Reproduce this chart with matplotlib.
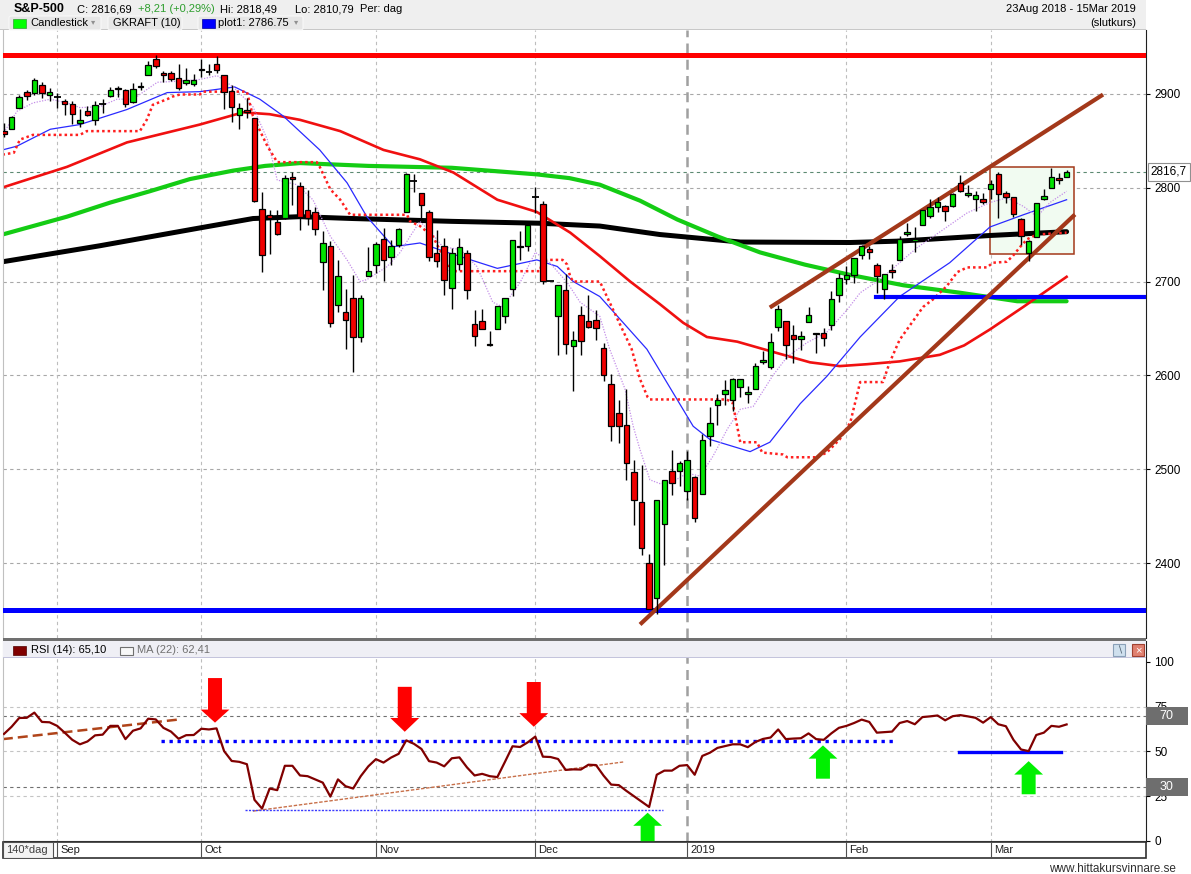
import numpy as np
import matplotlib
matplotlib.use('Agg')
import matplotlib.pyplot as plt
import matplotlib.transforms as mtrans
from matplotlib.patches import Rectangle, Polygon, FancyBboxPatch

plt.rcParams['font.family'] = ['Liberation Sans', 'DejaVu Sans']

# ---- daily OHLC, 23 Aug 2018 - 15 Mar 2019 (Dec 5 shown as a flat bar) ----
opens = [2860.3, 2862.4, 2884.7, 2901.5, 2900.6, 2908.9, 2898.4,
         2897.0, 2891.6, 2888.6, 2868.3, 2881.4, 2871.6, 2888.3, 2896.9, 2906.4, 2903.8,
         2890.7, 2906.6, 2919.7, 2936.8, 2921.8, 2921.8, 2917.0, 2911.7, 2910.0,
         2926.3, 2923.8, 2931.7, 2919.4, 2902.5, 2877.5, 2882.5, 2873.9, 2776.9, 2770.5,
         2763.8, 2767.1, 2811.7, 2802.0, 2775.7, 2773.9, 2721.0, 2737.9, 2674.9, 2667.9,
         2682.7, 2640.7, 2705.6,
         2717.6, 2745.5, 2726.4, 2738.4, 2774.1, 2806.4, 2794.1, 2773.9, 2730.1, 2737.9,
         2693.5, 2718.5, 2730.7, 2654.6, 2657.7, 2633.4, 2650.0, 2663.8, 2691.5, 2737.0,
         2737.8,
         2790.5, 2782.4, 2700.1, 2663.5, 2691.3, 2630.9, 2664.4, 2658.2, 2658.7, 2629.7,
         2590.8, 2559.9, 2547.1, 2496.8, 2465.4, 2400.6, 2363.1, 2442.5, 2498.8, 2498.9,
         2477.0, 2491.9, 2474.3, 2535.6, 2568.1, 2580.0, 2573.5, 2588.1, 2580.3, 2585.1,
         2614.8, 2609.3, 2651.3, 2657.9, 2643.5, 2638.8, 2657.4, 2645.0, 2644.9, 2653.6,
         2685.5,
         2702.3, 2706.5, 2728.3, 2735.1, 2717.5, 2692.4, 2712.4, 2722.6, 2750.3, 2743.5,
         2760.2, 2769.3, 2779.1, 2780.7, 2780.7, 2804.4, 2792.4, 2787.5, 2788.1,
         2798.2, 2814.4, 2794.4, 2790.3, 2766.5, 2730.8, 2747.6, 2787.3, 2799.8, 2810.4,
         2810.8]
highs = [2868.8, 2876.2, 2898.3, 2903.8, 2916.5, 2912.5, 2906.3,
         2900.2, 2894.2, 2892.1, 2883.8, 2886.9, 2892.5, 2894.7, 2906.8, 2908.3, 2904.7,
         2911.2, 2912.4, 2934.8, 2940.9, 2923.8, 2924.0, 2931.2, 2927.2, 2920.5,
         2937.1, 2931.4, 2939.9, 2919.8, 2909.6, 2889.5, 2894.8, 2874.0, 2795.1, 2775.8,
         2776.0, 2813.5, 2816.9, 2806.0, 2797.8, 2778.9, 2753.6, 2742.6, 2722.7, 2692.4,
         2706.9, 2685.4, 2736.7,
         2741.7, 2756.6, 2744.3, 2756.8, 2815.2, 2814.8, 2794.1, 2776.0, 2754.6, 2746.8,
         2735.4, 2746.8, 2733.2, 2669.4, 2670.7, 2647.6, 2674.4, 2682.5, 2744.0, 2753.8,
         2760.9,
         2800.2, 2785.9, 2700.1, 2696.2, 2708.5, 2647.5, 2674.4, 2685.4, 2670.2, 2635.1,
         2601.1, 2574.0, 2585.3, 2509.6, 2504.4, 2410.3, 2467.8, 2489.1, 2520.3, 2509.2,
         2519.5, 2493.1, 2538.1, 2566.2, 2579.8, 2595.3, 2597.8, 2596.3, 2589.3, 2613.1,
         2625.8, 2645.1, 2675.5, 2657.9, 2653.2, 2647.2, 2672.4, 2645.0, 2650.9, 2690.4,
         2709.0,
         2716.7, 2725.0, 2739.0, 2738.1, 2719.3, 2708.1, 2718.1, 2748.2, 2761.9, 2757.9,
         2775.7, 2787.3, 2789.9, 2781.6, 2794.2, 2813.5, 2803.1, 2795.8, 2793.7,
         2808.0, 2816.9, 2796.4, 2790.3, 2767.3, 2744.1, 2784.0, 2798.3, 2821.2, 2815.0,
         2818.5]
lows = [2854.0, 2862.4, 2884.7, 2893.5, 2898.4, 2895.2, 2891.7,
        2885.1, 2876.9, 2867.3, 2864.1, 2875.9, 2866.8, 2879.2, 2896.4, 2895.8, 2886.2,
        2890.4, 2903.8, 2919.7, 2927.1, 2912.6, 2913.7, 2903.3, 2909.3, 2907.5,
        2917.9, 2919.4, 2921.4, 2883.9, 2869.3, 2862.1, 2874.3, 2784.9, 2710.5, 2729.4,
        2749.0, 2766.9, 2781.8, 2755.2, 2760.3, 2749.2, 2691.4, 2651.9, 2667.8, 2628.2,
        2603.5, 2635.3, 2705.6,
        2708.9, 2700.4, 2717.9, 2737.1, 2774.1, 2795.0, 2764.2, 2722.0, 2715.0, 2685.8,
        2670.8, 2712.2, 2681.1, 2631.5, 2649.8, 2631.1, 2650.0, 2655.9, 2684.4, 2722.9,
        2732.8,
        2773.4, 2697.2, 2700.1, 2621.5, 2623.1, 2583.2, 2621.3, 2650.3, 2637.3, 2593.8,
        2530.5, 2528.7, 2489.0, 2441.2, 2408.6, 2351.1, 2346.6, 2397.9, 2472.9, 2482.8,
        2467.5, 2444.0, 2474.3, 2524.6, 2547.6, 2568.9, 2562.0, 2577.4, 2570.4, 2585.1,
        2612.7, 2606.4, 2647.6, 2617.3, 2612.9, 2627.0, 2657.3, 2624.1, 2631.1, 2648.3,
        2678.7,
        2696.9, 2698.8, 2724.0, 2724.2, 2687.3, 2681.8, 2703.8, 2722.6, 2748.6, 2731.2,
        2760.2, 2767.3, 2774.1, 2764.6, 2779.1, 2795.0, 2789.5, 2775.1, 2782.5,
        2787.4, 2767.7, 2783.0, 2768.7, 2739.1, 2722.3, 2747.6, 2786.7, 2799.8, 2803.5,
        2810.8]
closes = [2857.0, 2874.7, 2896.7, 2897.5, 2914.0, 2901.1, 2901.5,
          2896.7, 2888.6, 2878.1, 2871.7, 2877.1, 2887.9, 2888.9, 2904.2, 2905.0, 2888.8,
          2904.3, 2908.0, 2930.8, 2929.7, 2919.4, 2915.6, 2906.0, 2914.0, 2914.0,
          2924.6, 2923.4, 2925.5, 2901.6, 2885.6, 2884.4, 2880.3, 2785.7, 2728.4, 2767.1,
          2750.8, 2809.9, 2809.2, 2768.8, 2767.8, 2755.9, 2740.7, 2656.1, 2705.6, 2658.7,
          2641.3, 2682.6, 2711.7,
          2740.4, 2723.1, 2738.3, 2755.5, 2813.9, 2806.8, 2781.0, 2726.2, 2722.2, 2701.6,
          2730.2, 2736.3, 2690.7, 2641.9, 2649.9, 2632.6, 2673.5, 2682.2, 2743.8, 2737.8,
          2760.2,
          2790.4, 2700.1, 2700.1, 2696.0, 2633.1, 2637.7, 2636.8, 2651.1, 2650.5, 2600.0,
          2545.9, 2546.2, 2507.0, 2467.4, 2416.6, 2351.1, 2467.7, 2488.8, 2485.7, 2506.9,
          2510.0, 2447.9, 2531.9, 2549.7, 2574.4, 2585.0, 2596.6, 2596.3, 2582.6, 2610.3,
          2616.1, 2636.0, 2670.7, 2632.9, 2638.7, 2642.3, 2664.8, 2643.9, 2640.0, 2681.1,
          2704.1,
          2706.5, 2724.9, 2737.7, 2731.6, 2706.1, 2707.9, 2709.8, 2744.7, 2753.0, 2745.7,
          2775.6, 2779.8, 2784.7, 2774.9, 2792.7, 2796.1, 2793.9, 2792.4, 2784.5,
          2803.7, 2792.8, 2789.7, 2771.5, 2748.9, 2743.1, 2783.3, 2791.5, 2810.9, 2808.5,
          2816.7]

# month starts (bar index) for grid and date row
month_idx = [7, 26, 49, 70, 90, 111, 130]
month_lbl = ['Sep', 'Oct', 'Nov', 'Dec', '2019', 'Feb', 'Mar']

# indicator lines (bar index, value)
ma200_x = [-0.2, 12.6, 25.8, 32.8, 39, 46, 59, 70.6, 78.5, 86.4, 97, 111.5, 118, 130, 140]
ma200_y = [2721, 2738, 2757, 2767, 2769, 2767, 2764, 2762, 2759, 2750, 2742, 2741.5, 2743, 2749, 2753]
ma100_x = [-0.2, 8.3, 14, 19.2, 24.5, 30.2, 34.4, 39, 48, 59, 70.2, 74.5, 78.5, 83.8, 88.7, 94,
           99.6, 105.5, 111.5, 118.5, 126, 133.5, 140]
ma100_y = [2750, 2769, 2784, 2796, 2809, 2818, 2823, 2826, 2823, 2821, 2814, 2810, 2803, 2786,
           2766, 2748, 2731, 2718, 2707, 2696, 2688, 2679, 2679]
ma50_x = [-0.2, 8.3, 16.2, 25.8, 31.5, 35, 39, 44.3, 50, 54.8, 59.2, 65, 70.2, 74.6, 78.5, 82.5,
          86.4, 89.5, 92.6, 96.6, 101.8, 106.2, 110.1, 113.7, 118, 123.3, 126.5, 129.9, 134.3, 140]
ma50_y = [2800, 2822, 2848, 2867, 2880, 2878, 2872, 2860, 2840, 2830, 2816, 2787, 2774, 2752, 2727,
          2700, 2676, 2656, 2641, 2636, 2624, 2614, 2610, 2612, 2615, 2622, 2632, 2649, 2673, 2705]
plot1_x = [-0.2, 1.7, 6.1, 10, 16.2, 21.5, 25.8, 30.4, 33.7, 36.8, 41.6, 45.2, 47.8, 51.3, 54.8,
           58.4, 65, 70.2, 72.9, 75, 78.5, 84.7, 90.8, 93, 98.3, 100.9, 104.9, 108.4, 112.8,
           118, 124.6, 129.9, 134.3, 140]
plot1_y = [2840, 2844, 2862, 2867, 2883, 2901, 2902, 2907, 2894, 2876, 2840, 2805, 2769, 2737, 2741,
           2731, 2714, 2723, 2716, 2700, 2684, 2628, 2546, 2532, 2519, 2529, 2570, 2599, 2641,
           2684, 2720, 2758, 2771, 2787]
fast_x = [-0.2, 1.7, 3.8, 6.1, 8.3, 10, 12.6, 14.9, 17, 20.2, 22.8, 25.8, 28.1, 30.2, 32.8, 34.7,
          36, 38.6, 40.7, 43, 45.2, 46.9, 47.8, 50.5, 52.2, 53.5, 54.8, 56.5, 57.8, 60.1, 62.3,
          64.4, 65.7, 68, 70, 71.9, 74.2, 75.9, 78.5, 79.8, 81.8, 82.9, 83.8, 85.1, 86.4, 88.1,
          90, 91.7, 93.4, 95.3, 97, 98.7, 101.3, 103.2, 105.8, 108.4, 111.1, 112.8, 115.4, 118,
          120.3, 123.7, 126.9, 129.9, 132.1, 134.3, 136.1, 137.8, 140]
fast_y = [2856, 2881, 2890, 2894, 2890, 2885, 2886, 2894, 2894, 2912, 2913, 2915, 2919, 2907, 2886,
          2851, 2808, 2803, 2787, 2748, 2723, 2700, 2702, 2716, 2731, 2748, 2764, 2750, 2737,
          2734, 2716, 2678, 2673, 2699, 2731, 2720, 2699, 2678, 2663, 2628, 2586, 2546, 2521,
          2489, 2485, 2487, 2496, 2493, 2514, 2543, 2564, 2567, 2600, 2620, 2635, 2646, 2670,
          2688, 2702, 2720, 2736, 2755, 2773, 2784, 2789, 2780, 2769, 2784, 2796]
stop_x = [-0.2, 1.3, 2.1, 3.8, 10, 10.9, 17.9, 18.8, 19.6, 21.5, 22.3, 23.2, 25.8, 26.2, 32, 32.8,
          34.7, 36, 41.2, 41.6, 43, 44.3, 45.6, 53.1, 53.5, 54.8, 56.5, 57.4, 58.8, 70.6, 71,
          73.6, 74.2, 74.6, 75, 78.5, 82.7, 83.8, 84.8, 85.1, 95.2, 96, 96.6, 97, 99.2, 99.9,
          102.6, 103.2, 107.1, 108.4, 110.1, 111.5, 112.8, 115.8, 116.7, 118, 121.1, 122.4,
          124.2, 125.6, 126.9, 129.5, 130.3, 132.1, 132.9, 133.9, 134.8, 136.1, 140]
stop_y = [2835, 2837, 2851, 2856, 2856, 2860, 2860, 2872, 2888, 2894, 2897, 2899, 2899, 2902, 2902,
          2876, 2844, 2827, 2827, 2822, 2798, 2787, 2771, 2771, 2764, 2759, 2748, 2734, 2711,
          2711, 2723, 2723, 2718, 2705, 2700, 2700, 2628, 2596, 2577, 2574.5, 2574.5, 2571,
          2546, 2529, 2529, 2518, 2516, 2513, 2513, 2518, 2532, 2550, 2593, 2593, 2614, 2638,
          2673, 2681, 2695, 2710, 2715, 2715, 2720, 2721, 2727, 2737, 2745, 2750, 2752]

# drawn studies on the price panel
resist_level = 2941.5
support_level = 2350
feb_support = 2683
feb_support_start = 114.9
chan_lower = [(83.8, 2335.1), (141.1, 2771.3)]
chan_upper = [(100.9, 2672.3), (144.8, 2898.9)]
box_x = (129.9, 141.0)
box_y = (2729, 2822)

rsi = [59.8, 63.8, 68.7, 68.8, 71.7, 66.5, 66.3, 64.3, 60.5, 56.5, 54.0, 55.6, 59.0, 59.4,
       64.3, 64.3, 56.9, 61.6, 62.9, 68.3, 67.9, 63.2, 61.1, 57.1, 59.1, 59.2, 62.7, 62.3,
       62.9, 50.2, 44.7, 44.2, 42.9, 23.0, 18.1, 29.3, 28.4, 42.0, 42.0, 36.6, 36.2, 34.4,
       32.6, 24.8, 34.4, 30.6, 29.3, 36.2, 41.7, 45.7, 43.8, 46.6, 48.7, 56.2, 54.3, 51.4,
       44.6, 43.8, 41.7, 46.2, 46.7, 41.1, 36.6, 37.5, 36.2, 35.7, 44.2, 52.9, 52.5, 55.1,
       58.3, 47.1, 46.9, 45.8, 39.7, 40.0, 39.9, 42.6, 42.4, 36.5, 31.5, 31.2, 28.0, 25.0,
       22.0, 19.0, 37.0, 39.3, 39.3, 42.0, 42.4, 37.0, 47.5, 49.3, 52.0, 53.0, 54.0, 54.0,
       52.4, 55.3, 57.0, 57.8, 62.3, 56.9, 57.2, 57.4, 60.1, 56.9, 56.5, 60.1, 63.2, 64.3,
       65.9, 67.8, 66.5, 60.5, 60.8, 61.1, 65.9, 67.0, 65.2, 69.2, 69.6, 70.1, 67.4, 69.7,
       70.3, 69.6, 68.8, 66.1, 69.2, 65.2, 64.1, 56.5, 51.1, 50.2, 59.2, 60.5, 64.3, 63.8,
       65.1]

# drawn studies on the RSI panel
rsi_trend1 = [(-0.15, 56.9), (22.9, 67.8)]
rsi_trend2 = [(32.8, 16.7), (81.7, 44.2)]
rsi_level_hi = (20.7, 117.4, 56)
rsi_level_lo = (31.8, 86.8, 17.4)
rsi_level_mar = (125.8, 139.2, 49.6)
red_arrows = [(27.8, 91.0, 73.4, 66.1), (52.8, 86.1, 68.7, 61.0), (69.8, 88.8, 71.4, 63.8)]
green_arrows = [(84.8, -2.0, 8.5, 15.8), (107.9, 34.8, 46.0, 53.4), (135.0, 26.1, 37.1, 44.6)]

W, H = 1191, 874
PX0 = 4.0      # pixel x of bar 0
PX_STEP = 7.59  # pixels per bar


def fx(px):
    return px / W


def fy(py):
    return 1 - py / H


fig = plt.figure(figsize=(W / 100, H / 100), dpi=100)
fig.patch.set_facecolor('white')

x_lo = (3 - PX0) / PX_STEP
x_hi = (1146 - PX0) / PX_STEP

ax = fig.add_axes([fx(3), fy(638), fx(1146) - fx(3), fy(30) - fy(638)])
rax = fig.add_axes([fx(3), fy(842), fx(1146) - fx(3), fy(641) - fy(842)])
dax = fig.add_axes([fx(3), fy(858), fx(1146) - fx(3), fy(842) - fy(858)])
for a in (ax, rax, dax):
    a.set_xlim(x_lo, x_hi)

# ---------------- price panel ----------------
ax.set_ylim(2320.7, 2967.6)
for lvl in range(2400, 3000, 100):
    ax.axhline(lvl, color='#a8a8a8', ls=(0, (3, 3)), lw=0.8, zorder=0)
ax.axhline(closes[-1], color='#5d8a72', ls=(0, (3, 3)), lw=0.8, zorder=0)

for a in (ax, rax):
    for m, lbl in zip(month_idx, month_lbl):
        if lbl == '2019':
            a.axvline(m, color='#a0a0a0', ls=(0, (4, 2.5)), lw=1.8, zorder=0)
        else:
            a.axvline(m, color='#bdbdbd', ls=(0, (3, 3)), lw=0.8, zorder=0)

ax.add_patch(Rectangle((box_x[0], box_y[0]), box_x[1] - box_x[0], box_y[1] - box_y[0],
                       facecolor='#f1fbf1', edgecolor='#a3381a', lw=1.1, zorder=1))

ax.plot(ma200_x, ma200_y, color='black', lw=3.6, zorder=2, solid_capstyle='round')
ax.plot(ma100_x, ma100_y, color='#14cc14', lw=3.0, zorder=2, solid_capstyle='round')
ax.plot(ma50_x, ma50_y, color='#f01010', lw=1.9, zorder=2)
ax.plot(plot1_x, plot1_y, color='#2a2aff', lw=0.9, zorder=2)
ax.plot(fast_x, fast_y, color='#c48fe8', lw=0.9, ls=(0, (1, 1.2)), zorder=2)
ax.plot(stop_x, stop_y, color='#ff2020', lw=1.8, ls=(0, (1, 1.2)), zorder=2)

ax.axhline(resist_level, color='#ff0000', lw=3.6, zorder=3)
ax.axhline(support_level, color='#0000ff', lw=3.6, zorder=3)
ax.plot([feb_support_start, x_hi], [feb_support, feb_support], color='#0000ff', lw=3.0, zorder=3)
for seg in (chan_lower, chan_upper):
    ax.plot([seg[0][0], seg[1][0]], [seg[0][1], seg[1][1]], color='#a3381a', lw=3.0,
            zorder=3, solid_capstyle='butt')

idx = np.arange(len(closes))
o = np.array(opens)
c = np.array(closes)
ax.vlines(idx, lows, highs, color='black', lw=1.0, zorder=4)
body_lo = np.minimum(o, c)
body_h = np.abs(c - o)
cols = np.where(c >= o, '#00e400', '#f00000')
flat = body_h < 0.6
ax.bar(idx[~flat], body_h[~flat], bottom=body_lo[~flat], width=0.72, color=cols[~flat],
       edgecolor='black', lw=0.9, zorder=5)
ax.hlines(c[flat], idx[flat] - 0.45, idx[flat] + 0.45, color='black', lw=1.3, zorder=5)

ax.yaxis.tick_right()
ax.set_yticks(range(2400, 3000, 100))
ax.tick_params(axis='y', labelsize=8.5, length=3, width=0.8, pad=3, colors='black')
ax.tick_params(axis='x', bottom=False, labelbottom=False)
for s in ('top', 'bottom'):
    ax.spines[s].set_visible(False)
ax.spines['left'].set_color('#c0c0c0')
ax.spines['right'].set_color('#202020')

tr = mtrans.blended_transform_factory(ax.transAxes, ax.transData)
ax.text(1.004, closes[-1], '2816,7', transform=tr, fontsize=8.5, va='center', ha='left',
        bbox=dict(boxstyle='square,pad=0.25', fc='white', ec='#909090', lw=0.8), zorder=6,
        clip_on=False)

# ---------------- RSI panel ----------------
rax.set_ylim(-0.56, 111.7)
for lvl in (25, 50, 75):
    rax.axhline(lvl, color='#c4c4c4', ls=(0, (3, 3)), lw=0.8, zorder=0)
for lvl in (30, 70):
    rax.axhline(lvl, color='#707070', ls=(0, (3, 3)), lw=0.8, zorder=0)
rax.axhline(0, color='#404040', lw=0.8, zorder=0)

rax.plot([p[0] for p in rsi_trend1], [p[1] for p in rsi_trend1], color='#b0441a',
         lw=1.8, ls=(0, (4, 2)), zorder=2)
rax.plot([p[0] for p in rsi_trend2], [p[1] for p in rsi_trend2], color='#c8704a',
         lw=1.0, ls=(0, (2.5, 1.2)), zorder=2)
rax.plot(rsi_level_hi[:2], [rsi_level_hi[2]] * 2, color='#0000ff', lw=2.4,
         ls=(0, (1, 1.4)), zorder=2)
rax.plot(rsi_level_lo[:2], [rsi_level_lo[2]] * 2, color='#3a3aff', lw=1.0,
         ls=(0, (1.5, 1)), zorder=2)
rax.plot(rsi_level_mar[:2], [rsi_level_mar[2]] * 2, color='#0000ff', lw=2.4, zorder=2)
rax.plot(idx, rsi, color='#800000', lw=1.6, zorder=3)

for xc, top, base, tip in red_arrows:
    pts = [(xc - 0.92, top), (xc + 0.92, top), (xc + 0.92, base), (xc + 1.9, base),
           (xc, tip), (xc - 1.9, base), (xc - 0.92, base)]
    rax.add_patch(Polygon(pts, closed=True, fc='#ff0000', ec='none', zorder=4))
for xc, bot, base, tip in green_arrows:
    pts = [(xc - 0.92, bot), (xc + 0.92, bot), (xc + 0.92, base), (xc + 1.9, base),
           (xc, tip), (xc - 1.9, base), (xc - 0.92, base)]
    rax.add_patch(Polygon(pts, closed=True, fc='#00f000', ec='none', zorder=4))

rax.yaxis.tick_right()
rax.set_yticks([0, 25, 50, 75, 100])
rax.tick_params(axis='y', labelsize=8.5, length=3, width=0.8, pad=3)
rax.tick_params(axis='x', bottom=False, labelbottom=False)
rax.spines['top'].set_visible(False)
rax.spines['bottom'].set_visible(False)
rax.spines['left'].set_color('#c0c0c0')
rax.spines['right'].set_color('#202020')

rtr = mtrans.blended_transform_factory(rax.transAxes, rax.transData)
for lvl in (70, 30):
    rax.add_patch(Rectangle((1.0, lvl - 5.0), 0.037, 10.0, transform=rtr, fc='#6e6e6e',
                            ec='none', clip_on=False, zorder=6))
    rax.text(1.018, lvl, str(lvl), transform=rtr, color='white', fontsize=9, ha='center',
             va='center', clip_on=False, zorder=7)

# ---------------- date row ----------------
dax.set_ylim(0, 1)
dax.axis('off')
dax.add_patch(Rectangle((0, 0), 1, 1, transform=dax.transAxes, fc='white', ec='#303030',
                        lw=1.2, clip_on=False))
cell_w = (53 - 3) / PX_STEP
dax.add_patch(Rectangle((x_lo, 0), cell_w, 1, fc='#f4f4f4', ec='#505050', lw=0.8))
dax.text(x_lo + 0.35, 0.5, '140*dag', fontsize=8, color='#404040', va='center', ha='left')
for m, lbl in zip(month_idx, month_lbl):
    dax.axvline(m, color='#505050', lw=0.8)
    dax.text(m + 0.4, 0.5, lbl, fontsize=8, va='center', ha='left', color='#202020')

# ---------------- header / chrome ----------------
fig.add_artist(Rectangle((0, fy(30)), fx(1146), 30 / H, transform=fig.transFigure,
                         fc='#efefef', ec='none', zorder=1))
fig.add_artist(Rectangle((0, fy(30)), fx(1146), 0.0012, transform=fig.transFigure,
                         fc='#c8c8c8', ec='none', zorder=1))
for x0, x1 in ((9, 101), (108, 182), (198, 303)):
    fig.add_artist(FancyBboxPatch((fx(x0), fy(30)), fx(x1) - fx(x0), 14 / H,
                                  boxstyle='round,pad=0,rounding_size=0.002',
                                  transform=fig.transFigure, fc='#e6e6e6', ec='#f8f8f8',
                                  lw=0.8, zorder=1.5))

fig.text(fx(14), fy(9), 'S&P-500', fontsize=9, fontweight='bold', va='center', zorder=3)
fig.text(fx(77), fy(9), 'C: 2816,69', fontsize=8, va='center', zorder=3)
fig.text(fx(138), fy(9), '+8,21 (+0,29%)', fontsize=8, color='#2e9e2e', va='center', zorder=3)
fig.text(fx(220), fy(9), 'Hi: 2818,49', fontsize=8, va='center', zorder=3)
fig.text(fx(295), fy(9), 'Lo: 2810,79', fontsize=8, va='center', zorder=3)
fig.text(fx(360), fy(9), 'Per: dag', fontsize=8, va='center', zorder=3)
fig.text(fx(1136), fy(9), '23Aug 2018 - 15Mar 2019', fontsize=8, ha='right', va='center',
         zorder=3)
fig.text(fx(1136), fy(23), '(slutkurs)', fontsize=8, ha='right', va='center', zorder=3)

fig.add_artist(Rectangle((fx(13), fy(28)), 13 / W, 9 / H, transform=fig.transFigure,
                         fc='#00ff00', ec='#30a030', lw=0.5, zorder=2))
fig.text(fx(30), fy(23), 'Candlestick', fontsize=8, va='center', zorder=3)
fig.text(fx(91), fy(23), '\u25be', fontsize=6, color='#909090', va='center', zorder=3)
fig.text(fx(113), fy(23), 'GKRAFT (10)', fontsize=8, va='center', zorder=3)
fig.add_artist(Rectangle((fx(202), fy(28)), 13 / W, 9 / H, transform=fig.transFigure,
                         fc='#0000ff', ec='#0000a0', lw=0.5, zorder=2))
fig.text(fx(218), fy(23), 'plot1: 2786.75', fontsize=8, va='center', zorder=3)
fig.text(fx(294), fy(23), '\u25be', fontsize=6, color='#909090', va='center', zorder=3)

# separator between panels + RSI header strip
fig.add_artist(Rectangle((fx(3), fy(641)), fx(1146) - fx(3), 3 / H, transform=fig.transFigure,
                         fc='#707070', ec='none', zorder=2))
fig.add_artist(Rectangle((fx(3), fy(658)), fx(1146) - fx(3), 17 / H, transform=fig.transFigure,
                         fc='#efeff5', ec='none', zorder=2))
fig.add_artist(Rectangle((fx(3), fy(658)), fx(1146) - fx(3), 0.0012, transform=fig.transFigure,
                         fc='#c4c4dc', ec='none', zorder=2))
fig.add_artist(Rectangle((fx(13), fy(655)), 13 / W, 9 / H, transform=fig.transFigure,
                         fc='#800000', ec='#500000', lw=0.5, zorder=3))
fig.text(fx(31), fy(650), 'RSI (14): 65,10', fontsize=8, va='center', zorder=4)
fig.add_artist(Rectangle((fx(120), fy(655)), 13 / W, 8 / H, transform=fig.transFigure,
                         fc='#f8f8f8', ec='#707070', lw=0.8, zorder=3))
fig.text(fx(137), fy(650), 'MA (22): 62,41', fontsize=8, color='#707070', va='center',
         zorder=4)
fig.add_artist(Rectangle((fx(1113), fy(656)), 12 / W, 12 / H, transform=fig.transFigure,
                         fc='#cfe0ee', ec='#8aa0b8', lw=0.8, zorder=3))
fig.text(fx(1119), fy(650), '\u2216', fontsize=7, color='#506070', ha='center', va='center',
         zorder=4)
fig.add_artist(Rectangle((fx(1132), fy(656)), 12 / W, 12 / H, transform=fig.transFigure,
                         fc='#e08070', ec='#a04030', lw=0.8, zorder=3))
fig.text(fx(1138), fy(650), '\u00d7', fontsize=8, color='white', ha='center', va='center',
         zorder=4)

fig.add_artist(Rectangle((fx(1146), fy(638)), 0.0012, 608 / H, transform=fig.transFigure,
                         fc='#202020', ec='none', zorder=2))
fig.text(fx(1176), fy(869), 'www.hittakursvinnare.se', fontsize=8.5, color='#303030',
         ha='right', va='center')

fig.savefig('out.png', dpi=100)
